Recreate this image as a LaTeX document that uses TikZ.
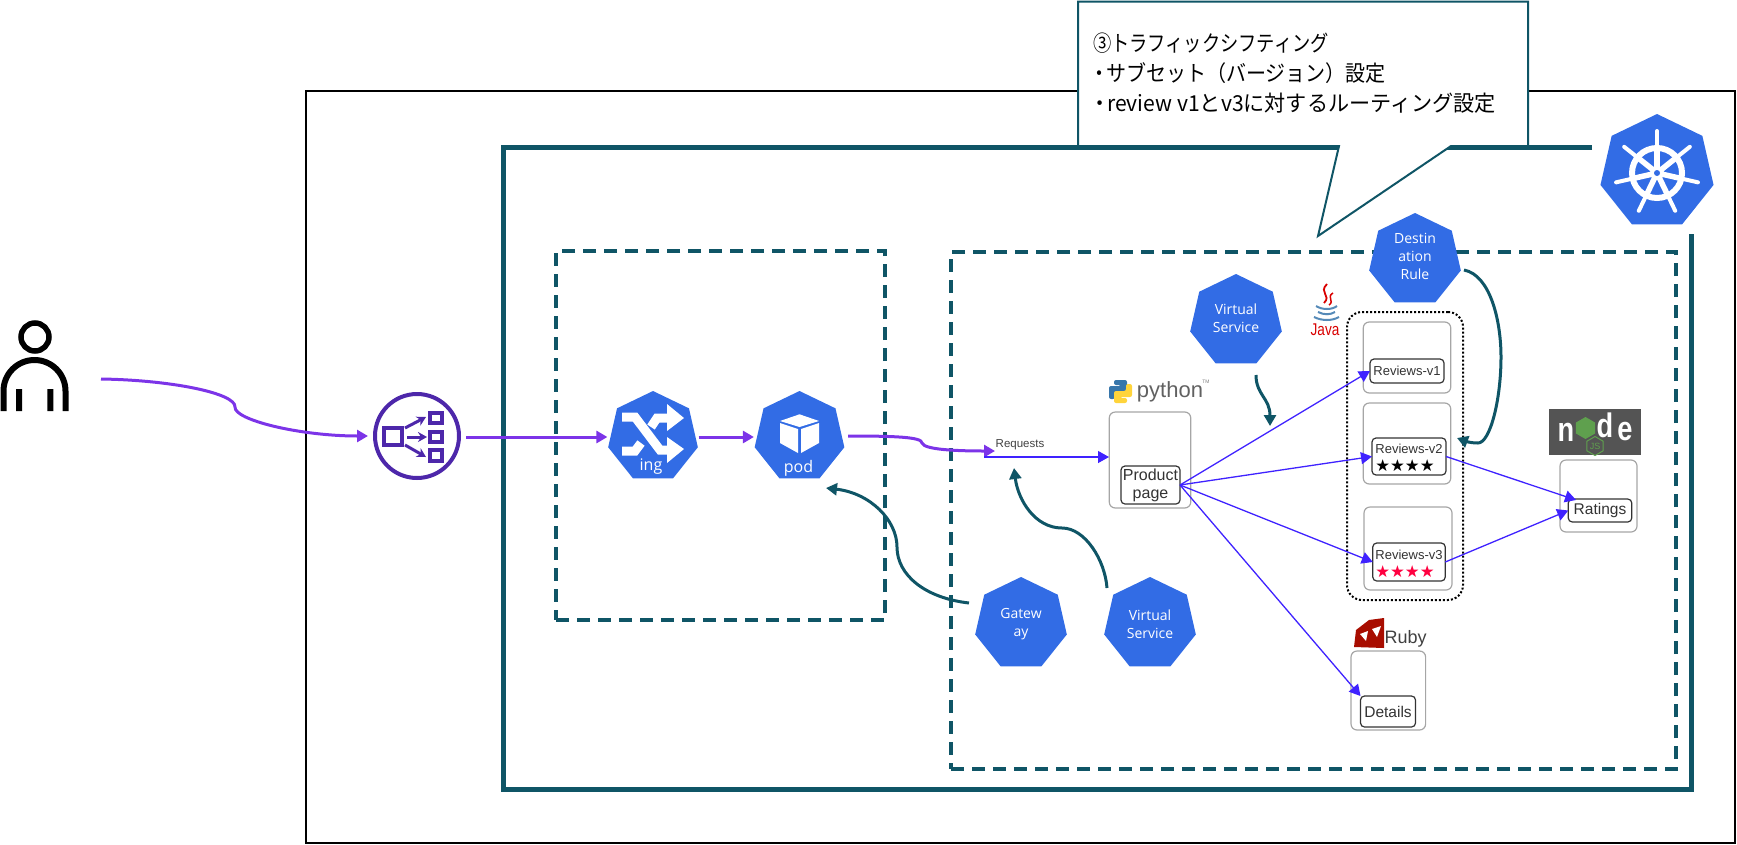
\documentclass[tikz,border=0pt]{standalone}
\usepackage{fontspec}
\usetikzlibrary{arrows.meta,shapes.geometric}
\setmainfont{Liberation Sans}
\newfontfamily\calloutfont{Noto Sans CJK JP}
\newfontfamily\kubefont{Open Sans}
\newfontfamily\starfont{DejaVu Sans}
\newfontfamily\javafont{Liberation Sans}[FakeStretch=0.8]
\newfontfamily\logofont{Liberation Sans Bold}[FakeStretch=0.8]
\definecolor{kubeblue}{HTML}{326CE5}
\definecolor{tealline}{HTML}{0F5566}
\definecolor{flowpurple}{HTML}{7C34E8}
\definecolor{callblue}{HTML}{3F22FF}
\definecolor{elbpurple}{HTML}{4D27AA}
\definecolor{boxgray}{HTML}{A6A6A6}
\definecolor{pyblue}{HTML}{3776AB}
\definecolor{pyyellow}{HTML}{FFD43B}
\definecolor{rubyred}{HTML}{A80D00}
\definecolor{starred}{HTML}{FF0040}
\definecolor{nodegreen}{HTML}{5FA04E}
\tikzset{
    every node/.style={inner sep=0pt,outer sep=0pt},
    kube node/.style={regular polygon,regular polygon sides=7,fill=kubeblue,minimum size=#1,outer sep=3pt,text=white,align=center,font=\kubefont\fontsize{14}{18}\selectfont},
    kube node/.default=94pt,
    kube label/.style={text=white,align=center,font=\kubefont\fontsize{14}{18}\selectfont},
    svc box/.style={draw=boxgray,line width=1.2pt,rounded corners=6pt},
    inner box/.style={draw=black!80,line width=1.2pt,rounded corners=4pt,fill=white,text=black!80,align=center},
    review box/.style={inner box,align=left,font=\fontsize{13}{18}\selectfont},
    ns box/.style={draw=tealline,line width=3.3pt,dash pattern=on 13pt off 8pt},
    flow/.style={draw=flowpurple,line width=3pt,-{Triangle[length=11pt,width=12pt]}},
    call/.style={draw=callblue,line width=1.3pt,-{Triangle[length=11pt,width=12pt]}},
    config/.style={draw=tealline,line width=3pt,-{Triangle[length=11pt,width=12pt]}},
    node letter/.style={text=white,font=\logofont\fontsize{34}{34}\selectfont}
}

\begin{document}
\begin{tikzpicture}[x=1pt,y=-1pt]
    \useasboundingbox (0,0) rectangle (1737,844);

    % frames
    \node[draw=black,line width=2pt,minimum width=1429pt,minimum height=752pt] (hostbox) at (1020.5,467) {};
    \draw[draw=tealline,line width=5pt] (1592,147) -- (503,147) -- (503,789) -- (1691,789) -- (1691,234);
    \node[ns box,minimum width=329pt,minimum height=369pt] (ingressns) at (720.5,435.5) {};
    \node[ns box,minimum width=725pt,minimum height=517pt] (appns) at (1313.5,510.5) {};

    % user
    \node[draw=black,line width=5.5pt,circle,minimum size=28pt] (user) at (35,337) {};
    \draw[black,line width=6pt] (3.5,411) -- (3.5,391) arc (180:360:31) -- (65.5,411);
    \fill[black] (16,389) rectangle (22,411) (47.3,389) rectangle (53.3,411);
    \coordinate (userout) at (101,379);

    % load balancer
    \node[draw=elbpurple,line width=4pt,circle,minimum size=84pt] (elb) at (417,436) {};
    \draw[elbpurple,line width=3.5pt] (384,428) rectangle (402,445);
    \draw[elbpurple,line width=3.5pt] (430,413) rectangle (442,423) (430,432) rectangle (442,442) (430,450) rectangle (442,461);
    \draw[elbpurple,line width=3pt,-{Stealth[length=9pt,width=10pt]}] (405,428) -- (426,417);
    \draw[elbpurple,line width=3pt,-{Stealth[length=9pt,width=10pt]}] (407,437) -- (427,437);
    \draw[elbpurple,line width=3pt,-{Stealth[length=9pt,width=10pt]}] (405,445) -- (426,457);

    % kubernetes hexagons
    \node[kube node=92pt] (ing) at (653,437) {};
    \node[kube node=92pt] (pod) at (799.5,437) {};
    \node[kube node] (gateway) at (1021,624) {Gatew\\ay};
    \node[kube node] (vsbottom) at (1150,624) {Virtual\\Service};
    \node[kube node] (vstop) at (1236,321) {};
    \node[kube label] (vstoplabel) at (1236,318.5) {Virtual\\Service};
    \node[kube node] (destrule) at (1415,260) {};
    \node[kube label] (destrulelabel) at (1415,256) {Destin\\ation\\Rule};
    \node[kube node=116pt] (kubelogo) at (1657,172) {};
    \node[text=white,font=\kubefont\fontsize{16}{18}\selectfont] (inglabel) at (651,467) {ing};
    \node[text=white,font=\kubefont\fontsize{16}{18}\selectfont] (podlabel) at (798.5,468) {pod};

    % shuffle arrows
    \draw[white,line width=9pt] (622,417) -- (635,417) -- (660,450) -- (670,450);
    \draw[white,line width=9pt] (622,451) -- (635,451) -- (641,443);
    \draw[white,line width=9pt] (651,427) -- (657,418) -- (670,418);
    \fill[white] (667,404) -- (684,418) -- (667,431) -- cycle (667,437) -- (684,449) -- (667,463) -- cycle;

    % cube
    \fill[white] (799.5,414.3) -- (780,421) -- (799.5,427) -- (819,421) -- cycle;
    \fill[white] (780,423) -- (798,429) -- (798,453) -- (780,443) -- cycle;
    \fill[white] (801,429) -- (819,423) -- (819,443) -- (801,453) -- cycle;

    % wheel
    \draw[white,line width=6pt] (1657,173) circle (25);
    \foreach \a in {90,141.43,192.86,244.29,295.71,347.14,398.57} {
        \draw[white,line width=5.5pt] (1657,173) -- ++(\a:-27);
        \draw[white,line width=4pt,line cap=round] (1657,173) ++(\a:-27) -- ++(\a:-15);
    }
    \fill[white] (1657,173) circle (7);
    \fill[kubeblue] (1657,173) circle (3);

    % services
    \node[svc box,minimum width=81.5pt,minimum height=96pt] (productbox) at (1150,460) {};
    \node[inner box,minimum width=59pt,minimum height=38pt,font=\fontsize{16}{18}\selectfont] (product) at (1150.5,485) {Product\\page};
    \node[draw=black,line width=2pt,dotted,rounded corners=15pt,minimum width=116pt,minimum height=288pt] (javagroup) at (1405,456) {};
    \node[svc box,minimum width=87.5pt,minimum height=71pt] (reviews1box) at (1407,357.5) {};
    \node[inner box,minimum width=74pt,minimum height=24pt,font=\fontsize{13}{14}\selectfont] (reviews1) at (1407,371) {Reviews-v1};
    \node[svc box,minimum width=87.5pt,minimum height=81pt] (reviews2box) at (1407,443.5) {};
    \node[review box,minimum width=74pt,minimum height=37pt] (reviews2) at (1409,456.5) {\rule{0pt}{13pt}Reviews-v2\\{\starfont\fontsize{16.5}{18}\selectfont\color{black}★★★★}};
    \node[svc box,minimum width=88pt,minimum height=83pt] (reviews3box) at (1408,548.5) {};
    \node[review box,minimum width=72.5pt,minimum height=38pt] (reviews3) at (1409,562) {\rule{0pt}{13pt}Reviews-v3\\{\starfont\fontsize{16.5}{18}\selectfont\color{starred}★★★★}};
    \node[svc box,minimum width=77pt,minimum height=72pt] (ratingsbox) at (1598.5,496) {};
    \node[inner box,minimum width=63.5pt,minimum height=23pt,font=\fontsize{15.5}{18}\selectfont] (ratings) at (1600,510.5) {Ratings};
    \node[svc box,minimum width=74.6pt,minimum height=79pt] (detailsbox) at (1388.3,690.5) {};
    \node[inner box,minimum width=55pt,minimum height=31pt,font=\fontsize{15.5}{18}\selectfont] (details) at (1388,711.5) {Details};

    % language logos
    \fill[pyblue,rounded corners=2pt] (1114,380) -- (1127,380) -- (1127,392) -- (1115,392) -- (1115,399) -- (1109,399) -- (1109,386) -- (1121,386) -- (1121,385) -- (1114,385) -- cycle;
    \fill[pyyellow,rounded corners=2pt] (1127,403) -- (1114,403) -- (1114,391) -- (1126,391) -- (1126,384) -- (1132,384) -- (1132,397) -- (1120,397) -- (1120,398) -- (1127,398) -- cycle;
    \node[text=black!62,font=\fontsize{22}{24}\selectfont] (pythonlabel) at (1170,392) {python};
    \node[text=black!50,font=\fontsize{5}{6}\selectfont] (pythontm) at (1206,382) {TM};

    \draw[red!85!black,line width=1.8pt] (1327,284) .. controls (1318,293) and (1332,295) .. (1324,303);
    \draw[red!85!black,line width=1.5pt] (1333,293) .. controls (1326,297) and (1335,301) .. (1329,305);
    \draw[pyblue!85,line width=2pt] (1316,306) .. controls (1322,310) and (1332,310) .. (1337,306);
    \draw[pyblue!85,line width=2pt] (1318,312) .. controls (1324,315) and (1330,315) .. (1335,312);
    \draw[pyblue!85,line width=2pt] (1314,317) .. controls (1322,321) and (1332,321) .. (1339,317);
    \node[text=red!85!black,font=\javafont\fontsize{17}{20}\selectfont] (javalabel) at (1325,330) {Java};

    \fill[rubyred] (1354,647) -- (1356,630) -- (1369,620) -- (1384,618) -- (1384,648) -- cycle;
    \fill[white] (1360,634) -- (1368,631) -- (1366,641) -- cycle (1372,629) -- (1381,626) -- (1377,637) -- cycle;
    \node[text=black!75,font=\fontsize{18}{20}\selectfont] (rubylabel) at (1405.5,639) {Ruby};

    \node[fill=black!67,minimum width=92pt,minimum height=46pt] (nodelogo) at (1595,432) {};
    \node[node letter] (nodeletter1) at (1566,432) {n};
    \node[regular polygon,regular polygon sides=6,shape border rotate=30,fill=nodegreen,minimum size=22pt] (nodehex) at (1585.5,428) {};
    \node[node letter] (nodeletter2) at (1605,425) {d};
    \node[node letter] (nodeletter3) at (1625,432) {e};
    \node[regular polygon,regular polygon sides=6,shape border rotate=30,draw=nodegreen,line width=1pt,minimum size=19pt,text=nodegreen,font=\fontsize{9}{9}\selectfont] (nodejs) at (1595,446) {JS};

    % requests
    \coordinate (reqin) at (995,451);
    \coordinate (reqstart) at (984,457);
    \coordinate (pythonin) at (1109,457);
    \node[text=black!75,font=\fontsize{11.5}{12}\selectfont] (requests) at (1020,445) {Requests};

    \draw[flow] (userout) .. controls (170,380) and (236,393) .. (235,407) .. controls (234,420) and (300,436) .. (368,436);
    \draw[flow] (466,437) -- (ing);
    \draw[flow] (ing) -- (pod);
    \draw[flow] (848,436) .. controls (895,436) and (922,437) .. (922,443) .. controls (924,450) and (960,451) .. (reqin);
    \draw[call] (reqstart) -- (pythonin);

    \draw[call] (product.east) -- (reviews1.west);
    \draw[call] (product.east) -- (reviews2.west);
    \draw[call] (product.east) -- (reviews3.west);
    \draw[call] (product.east) -- (details.north west);
    \coordinate (ratingsin) at (1576,500);
    \draw[call] (reviews2.east) -- (ratingsin);
    \draw[call] (reviews3.east) -- (ratings.west);

    \coordinate (gatewayout) at (969,603);
    \coordinate (podin) at (826,488);
    \coordinate (vsbottomout) at (1107,588);
    \coordinate (requestsin) at (1014,468);
    \coordinate (vstopout) at (1256,375);
    \coordinate (subsetin) at (1270,426);
    \coordinate (destout) at (1464,270);
    \coordinate (reviews2in) at (1457,438);
    \draw[config] (gatewayout) .. controls (925,598) and (897,575) .. (897,547) .. controls (897,520) and (870,493) .. (podin);
    \draw[config] (vsbottomout) .. controls (1105,560) and (1085,528) .. (1062,528) .. controls (1035,528) and (1018,500) .. (requestsin);
    \draw[config] (vstopout) .. controls (1256,395) and (1270,398) .. (subsetin);
    \draw[config] (destout) .. controls (1490,275) and (1501,320) .. (1501,357) .. controls (1501,400) and (1490,443) .. (1478,443) .. controls (1470,443) and (1465,441) .. (reviews2in);

    % callout
    \draw[draw=tealline,line width=2pt,fill=white] (1078,1.5) -- (1528,1.5) -- (1528,146) -- (1451,146) -- (1318,236) -- (1339,146) -- (1078,146) -- cycle;
    \node[anchor=north west,align=left,font=\calloutfont\fontsize{22}{30}\selectfont] (callout) at (1093,33) {{\addfontfeature{FakeStretch=0.83}③トラフィックシフティング}\\\hspace*{-4pt}{\addfontfeature{FakeStretch=0.91}・\hspace{-3pt}サブセット（バージョン）設定}\\\hspace*{-4pt}{\addfontfeature{FakeStretch=0.96}・\hspace{-3pt}review v1とv3に対するルーティング設定}};
\end{tikzpicture}
\end{document}
